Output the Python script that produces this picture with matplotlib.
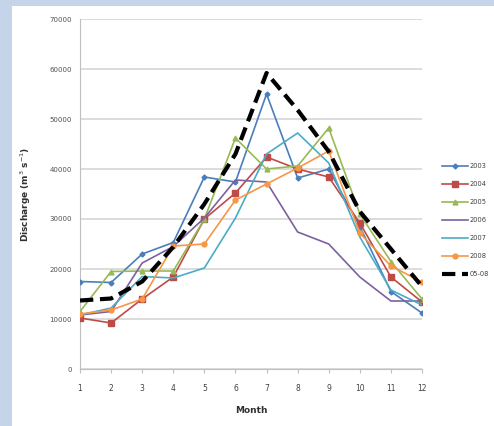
import matplotlib
matplotlib.use("Agg")
import matplotlib.pyplot as plt
from matplotlib.patches import Rectangle

months = [1, 2, 3, 4, 5, 6, 7, 8, 9, 10, 11, 12]
series_labels = ["2003", "2004", "2005", "2006", "2007", "2008", "05-08"]
s2003 = [17500, 17300, 23000, 25300, 38400, 37400, 55000, 38200, 40000, 28500, 15500, 11200]
s2004 = [10200, 9200, 14000, 18400, 30000, 35200, 42400, 40000, 38400, 29200, 18400, 13400]
s2005 = [11500, 19500, 19600, 19600, 30000, 46200, 40000, 40600, 48200, 31000, 21500, 14000]
s2006 = [10800, 11500, 21200, 24500, 30200, 37800, 37400, 27400, 25000, 18400, 13600, 13600]
s2007 = [10800, 12200, 18500, 18200, 20200, 30200, 43000, 47200, 41200, 26400, 15800, 12800]
s2008 = [11000, 11800, 14000, 24600, 25000, 33800, 37000, 40200, 43600, 27200, 20600, 17400]
mean_0508 = [13700, 14100, 17500, 24400, 33000, 43000, 59200, 51800, 43500, 31500, 24000, 16500]
y_ticks = [0, 10000, 20000, 30000, 40000, 50000, 60000, 70000]

W, H = 494, 426
fig = plt.figure(figsize=(W / 100, H / 100), dpi=100)
fig.patch.set_facecolor("#c5d4e9")
fig.patches.append(Rectangle((12 / W, 0), 1, 1 - 6 / H, transform=fig.transFigure,
                             facecolor="white", edgecolor="none", zorder=-10))

ax = fig.add_axes([80 / W, 1 - 369 / H, 342 / W, 350 / H])
ax.set_facecolor("none")

styles = [
    (s2003, "#4a7ebb", "D", 2.5, 1.2, "-"),
    (s2004, "#be4b48", "s", 4.0, 1.2, "-"),
    (s2005, "#98b954", "^", 3.5, 1.2, "-"),
    (s2006, "#7d60a0", None, 0, 1.2, "-"),
    (s2007, "#4bacc6", None, 0, 1.2, "-"),
    (s2008, "#f79646", "o", 3.5, 1.2, "-"),
]
for (vals, col, mk, ms, lw, ls), lab in zip(styles, series_labels[:6]):
    ax.plot(months, vals, color=col, marker=mk, markersize=ms, linewidth=lw,
            linestyle=ls, label=lab, zorder=3)
ax.plot(months, mean_0508, color="black", linestyle=(0, (3.2, 1.6)), linewidth=3.0,
        label=series_labels[6], zorder=4)

ax.set_xlim(1, 12)
ax.set_ylim(0, 70000)
ax.set_xticks(months)
ax.set_xticklabels([str(m) for m in months], fontsize=5.5, color="#404040")
ax.set_yticks(y_ticks)
ax.set_yticklabels([str(v) for v in y_ticks], fontsize=5, color="#505050")
ax.yaxis.grid(True, color="#d9d9d9", linewidth=1.3)
ax.set_axisbelow(True)
for side in ["top", "right"]:
    ax.spines[side].set_visible(False)
ax.spines["left"].set_color("#bfbfbf")
ax.spines["bottom"].set_color("#bfbfbf")
ax.tick_params(axis="y", length=0, pad=6)
ax.tick_params(axis="x", length=3, color="#bfbfbf", pad=8)

ax.set_xlabel("Month", fontsize=6.5, fontweight="bold", color="#303030", labelpad=9)
ax.set_ylabel("Discharge (m$^{3}$ s$^{-1}$)", fontsize=6.5, fontweight="bold",
              color="#303030", labelpad=12)

ax.legend(loc="upper left", bbox_to_anchor=(441 / W, 1 - 162 / H),
          bbox_transform=fig.transFigure, frameon=False, fontsize=4.8,
          handlelength=3.8, labelspacing=1.8, handletextpad=0.3,
          labelcolor="#404040", borderaxespad=0, borderpad=0.2)

fig.savefig("out.png", dpi=100, facecolor=fig.get_facecolor())
